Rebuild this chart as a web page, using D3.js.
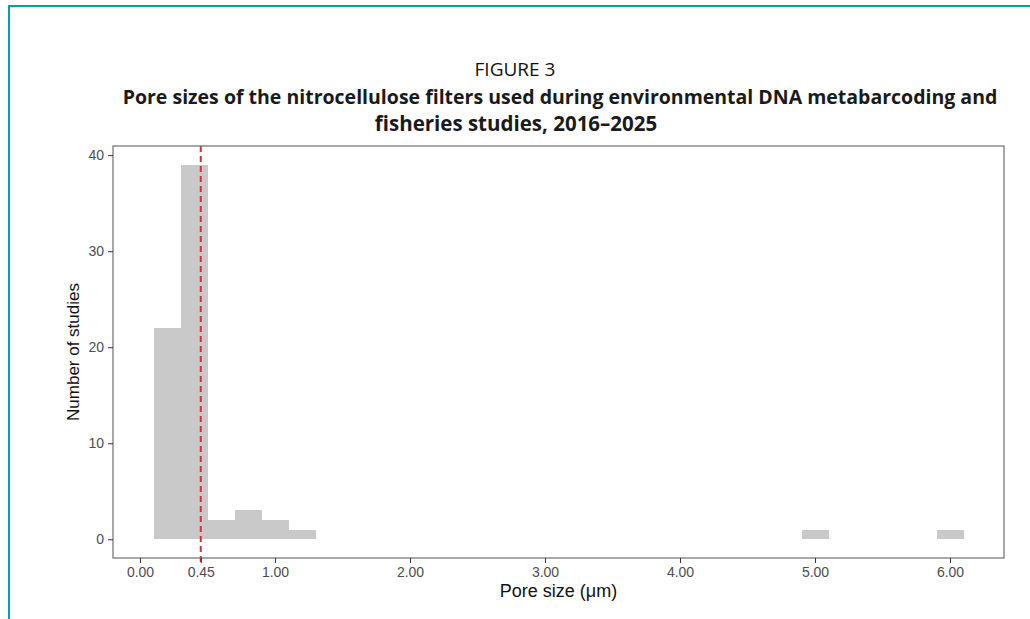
<!DOCTYPE html>
<html>
<head>
<meta charset="utf-8">
<script src="https://cdn.jsdelivr.net/npm/d3@7"></script>
<style>
  body { margin: 0; background: #fff; }
  svg { display: block; }
  .tick text { font-family: "Liberation Sans", Arial, sans-serif; font-size: 14px; fill: #4d4d4d; }
  .tick line { stroke: #333; }
</style>
</head>
<body>
<div id="chart"></div>
<script>
// histogram bins (left edge, width 0.2) and counts
var binStarts = [0.1, 0.3, 0.5, 0.7, 0.9, 1.1, 4.9, 5.9];
var counts = [22, 39, 2, 3, 2, 1, 1, 1];
var binWidth = 0.2;
var xTicks = [0, 0.45, 1, 2, 3, 4, 5, 6];
var yTicks = [0, 10, 20, 30, 40];
var refLine = 0.45;

var svgWidth = 1030;
var svgHeight = 619;

var panel = { left: 113, right: 1004, top: 146, bottom: 558 };

var svg = d3.select("#chart")
    .append("svg")
    .attr("width", svgWidth)
    .attr("height", svgHeight);

// teal frame (top + left)
svg.append("path")
    .attr("d", "M9,619 V6 H1030")
    .attr("fill", "none")
    .attr("stroke", "#00a2a4")
    .attr("stroke-width", 2);

// titles
svg.append("text")
    .attr("x", 515)
    .attr("y", 76)
    .attr("text-anchor", "middle")
    .style("font-family", "'Open Sans', sans-serif")
    .style("font-size", "19px")
    .attr("fill", "#111")
    .text("FIGURE 3");

svg.append("text")
    .attr("x", 560)
    .attr("y", 104)
    .attr("text-anchor", "middle")
    .style("font-family", "'Open Sans', sans-serif")
    .style("font-size", "19.5px")
    .style("font-weight", "bold")
    .attr("fill", "#1a1a1a")
    .text("Pore sizes of the nitrocellulose filters used during environmental DNA metabarcoding and");

svg.append("text")
    .attr("x", 516)
    .attr("y", 131)
    .attr("text-anchor", "middle")
    .style("font-family", "'Open Sans', sans-serif")
    .style("font-size", "20.5px")
    .style("font-weight", "bold")
    .attr("fill", "#1a1a1a")
    .text("fisheries studies, 2016\u20132025");

// scales (ggplot 5% expansion)
var xScale = d3.scaleLinear()
    .domain([-0.2, 6.4])
    .range([panel.left, panel.right]);

var yScale = d3.scaleLinear()
    .domain([-1.95, 40.95])
    .range([panel.bottom, panel.top]);

// bars
svg.selectAll("rect.bar")
    .data(counts)
    .enter()
    .append("rect")
    .attr("class", "bar")
    .attr("x", (d, i) => xScale(binStarts[i]))
    .attr("width", (d, i) => xScale(binStarts[i] + binWidth) - xScale(binStarts[i]) + 0.5)
    .attr("y", d => yScale(d))
    .attr("height", d => yScale(0) - yScale(d))
    .attr("fill", "#c9c9c9")
    .attr("shape-rendering", "crispEdges");

// reference line
svg.append("line")
    .attr("x1", xScale(refLine))
    .attr("x2", xScale(refLine))
    .attr("y1", panel.top)
    .attr("y2", panel.bottom + 5)
    .attr("stroke", "#d2303c")
    .attr("stroke-width", 2)
    .attr("stroke-dasharray", "6,4");

// panel border
svg.append("rect")
    .attr("x", panel.left)
    .attr("y", panel.top)
    .attr("width", panel.right - panel.left)
    .attr("height", panel.bottom - panel.top)
    .attr("fill", "none")
    .attr("stroke", "#6e6e6e")
    .attr("stroke-width", 1.2);

// axes
var bottomAxis = d3.axisBottom(xScale)
    .tickValues(xTicks)
    .tickFormat(d3.format(".2f"))
    .tickSize(5)
    .tickPadding(4);

var leftAxis = d3.axisLeft(yScale)
    .tickValues(yTicks)
    .tickSize(5)
    .tickPadding(4);

var xAxis = svg.append("g")
    .attr("transform", `translate(0, ${panel.bottom})`)
    .call(bottomAxis);
xAxis.select(".domain").remove();

var yAxis = svg.append("g")
    .attr("transform", `translate(${panel.left}, 0)`)
    .call(leftAxis);
yAxis.select(".domain").remove();

// axis titles
svg.append("text")
    .attr("x", (panel.left + panel.right) / 2)
    .attr("y", 597)
    .attr("text-anchor", "middle")
    .style("font-family", "'Liberation Sans', Arial, sans-serif")
    .style("font-size", "18px")
    .attr("fill", "#111")
    .text("Pore size (\u03bcm)");

svg.append("text")
    .attr("transform", `translate(79, ${(panel.top + panel.bottom) / 2}) rotate(-90)`)
    .attr("text-anchor", "middle")
    .style("font-family", "'Liberation Sans', Arial, sans-serif")
    .style("font-size", "17px")
    .attr("fill", "#111")
    .text("Number of studies");
</script>
</body>
</html>
